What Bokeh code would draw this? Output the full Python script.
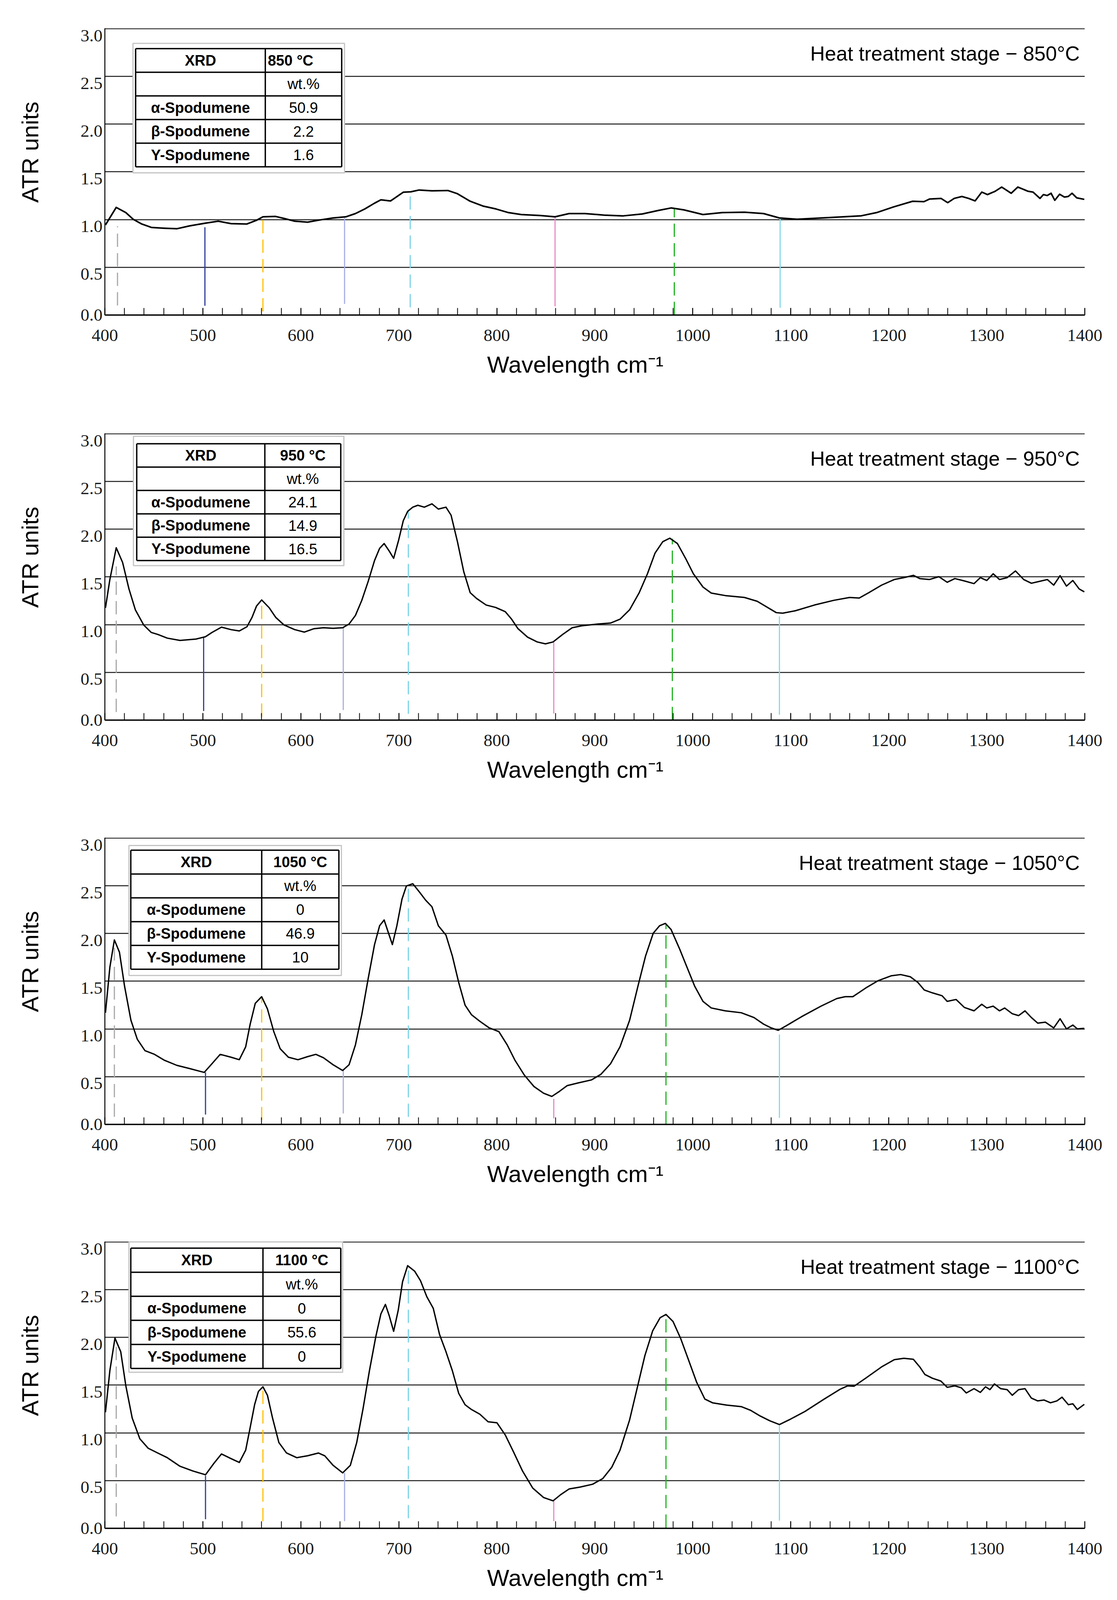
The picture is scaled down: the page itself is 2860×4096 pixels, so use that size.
import math
from bokeh.plotting import figure
from bokeh.models import Range1d, FixedTicker, SingleIntervalTicker, Label, ColumnDataSource
from bokeh.layouts import column
from bokeh.embed import file_html
from bokeh.resources import INLINE
from bokeh.core.properties import value

# ---------------------------------------------------------------- data
temps = ["850", "950", "1050", "1100"]

wn_850 = [400.6, 411.6, 421.4, 429.0, 437.6, 447.4, 460.4, 473.4, 486.5, 502.7,
          515.7, 528.8, 545.0, 554.8, 561.3, 574.3, 584.1, 593.8, 606.9, 619.9,
          632.9, 645.9, 655.7, 665.4, 675.2, 681.7, 691.5, 698.0, 704.5, 712.3,
          720.7, 733.8, 750.0, 759.8, 772.8, 785.8, 798.9, 811.9, 824.9, 844.4,
          859.4, 873.7, 890.0, 909.5, 929.0, 948.5, 964.8, 977.8, 990.8, 1010.3,
          1029.9, 1052.7, 1072.2, 1088.4, 1106.3, 1137.0, 1172.0, 1187.5, 1205.0, 1224.3,
          1235.9, 1241.7, 1253.3, 1260.1, 1266.8, 1274.6, 1281.4, 1288.1, 1294.9, 1300.7,
          1308.4, 1315.2, 1324.9, 1331.7, 1342.3, 1347.2, 1354.3, 1357.8, 1361.7, 1365.6,
          1369.4, 1374.3, 1379.2, 1383.1, 1387.0, 1391.8, 1399.5]
atr_850 = [0.944, 1.128, 1.073, 1.003, 0.954, 0.918, 0.910, 0.904, 0.934, 0.963,
           0.983, 0.958, 0.954, 0.993, 1.029, 1.033, 1.009, 0.983, 0.973, 0.997,
           1.017, 1.029, 1.063, 1.112, 1.172, 1.207, 1.195, 1.241, 1.287, 1.291,
           1.310, 1.301, 1.305, 1.271, 1.192, 1.142, 1.112, 1.073, 1.053, 1.043,
           1.029, 1.063, 1.063, 1.047, 1.039, 1.059, 1.096, 1.122, 1.102, 1.053,
           1.073, 1.077, 1.063, 1.017, 1.004, 1.020, 1.040, 1.073, 1.133, 1.192,
           1.188, 1.216, 1.222, 1.177, 1.222, 1.242, 1.222, 1.196, 1.288, 1.262,
           1.296, 1.341, 1.276, 1.341, 1.296, 1.288, 1.222, 1.262, 1.252, 1.276,
           1.202, 1.266, 1.236, 1.242, 1.276, 1.228, 1.212]

wn_950 = [400.6, 405.1, 411.6, 418.1, 424.6, 431.1, 439.6, 447.4, 454.0, 463.7,
          476.7, 493.0, 502.7, 509.2, 519.0, 528.8, 537.2, 545.0, 550.2, 554.8,
          560.0, 567.8, 574.3, 582.8, 593.8, 603.6, 613.4, 623.1, 632.9, 642.7,
          649.2, 655.7, 662.2, 668.7, 675.2, 680.4, 685.0, 690.2, 694.7, 699.9,
          704.5, 709.0, 714.2, 719.4, 726.0, 733.8, 740.3, 748.1, 753.3, 759.8,
          766.3, 772.8, 779.3, 789.1, 798.9, 808.6, 815.1, 821.6, 831.4, 841.2,
          849.6, 857.4, 867.2, 876.9, 886.7, 903.0, 916.0, 925.7, 935.5, 945.3,
          953.7, 961.5, 969.4, 976.5, 984.3, 992.8, 1000.6, 1010.4, 1018.8, 1033.1,
          1052.7, 1065.7, 1075.4, 1085.2, 1091.7, 1104.7, 1124.2, 1143.8, 1160.0, 1169.8,
          1179.6, 1192.6, 1205.6, 1215.4, 1225.1, 1231.6, 1241.4, 1251.1, 1259.6, 1267.4,
          1277.2, 1287.0, 1293.4, 1300.0, 1306.5, 1313.0, 1320.8, 1329.3, 1337.7, 1345.5,
          1353.4, 1361.8, 1368.3, 1374.8, 1381.3, 1387.8, 1394.3, 1399.5]
atr_950 = [1.176, 1.473, 1.806, 1.652, 1.374, 1.156, 0.997, 0.918, 0.898, 0.859,
           0.835, 0.849, 0.874, 0.918, 0.974, 0.948, 0.934, 0.978, 1.077, 1.196,
           1.259, 1.176, 1.077, 0.997, 0.948, 0.922, 0.958, 0.968, 0.962, 0.968,
           1.007, 1.097, 1.255, 1.453, 1.672, 1.800, 1.850, 1.771, 1.695, 1.890,
           2.088, 2.187, 2.231, 2.251, 2.231, 2.266, 2.211, 2.231, 2.147, 1.870,
           1.553, 1.335, 1.275, 1.206, 1.180, 1.136, 1.057, 0.958, 0.869, 0.819,
           0.799, 0.819, 0.898, 0.968, 0.988, 1.007, 1.017, 1.057, 1.156, 1.335,
           1.533, 1.751, 1.870, 1.906, 1.850, 1.691, 1.533, 1.394, 1.331, 1.305,
           1.285, 1.245, 1.186, 1.126, 1.120, 1.146, 1.206, 1.255, 1.285, 1.279,
           1.335, 1.414, 1.473, 1.493, 1.517, 1.483, 1.473, 1.503, 1.444, 1.483,
           1.458, 1.430, 1.493, 1.463, 1.533, 1.473, 1.493, 1.563, 1.473, 1.434,
           1.453, 1.473, 1.414, 1.513, 1.404, 1.463, 1.374, 1.344]

wn_1050 = [400.6, 405.1, 409.7, 414.9, 420.1, 426.6, 433.1, 440.9, 450.7, 460.4,
           473.4, 486.5, 501.4, 509.2, 517.7, 528.8, 537.2, 543.7, 548.3, 553.5,
           560.0, 565.9, 572.4, 578.9, 587.3, 597.1, 606.9, 615.3, 623.1, 632.9,
           642.7, 649.2, 655.7, 662.2, 668.7, 675.2, 680.4, 685.0, 689.5, 693.4,
           698.0, 703.2, 707.7, 714.2, 720.7, 727.3, 733.8, 740.3, 748.1, 754.6,
           761.1, 767.6, 774.1, 782.6, 792.3, 802.1, 810.6, 818.4, 828.1, 837.9,
           847.7, 856.1, 864.0, 871.7, 883.5, 896.5, 906.2, 916.0, 925.7, 935.5,
           944.0, 951.8, 959.6, 966.1, 972.0, 977.8, 986.3, 994.1, 1001.9, 1010.4,
           1018.8, 1033.1, 1049.4, 1062.4, 1072.2, 1080.0, 1087.2, 1095.0, 1111.2, 1130.8,
           1147.0, 1155.5, 1163.3, 1176.3, 1189.3, 1202.4, 1212.1, 1221.9, 1229.7, 1236.2,
           1244.6, 1254.4, 1259.6, 1268.7, 1277.2, 1287.0, 1294.8, 1300.0, 1306.5, 1313.0,
           1318.2, 1326.0, 1332.5, 1339.0, 1345.5, 1352.0, 1359.8, 1368.3, 1374.8, 1381.3,
           1387.8, 1392.4, 1399.5]
atr_1050 = [1.170, 1.646, 1.933, 1.804, 1.448, 1.091, 0.892, 0.773, 0.734, 0.674,
            0.619, 0.585, 0.545, 0.635, 0.734, 0.704, 0.678, 0.813, 1.051, 1.269,
            1.338, 1.210, 0.972, 0.793, 0.704, 0.678, 0.710, 0.734, 0.698, 0.625,
            0.565, 0.625, 0.833, 1.150, 1.527, 1.884, 2.082, 2.142, 2.003, 1.884,
            2.082, 2.360, 2.498, 2.522, 2.439, 2.350, 2.280, 2.082, 1.983, 1.765,
            1.487, 1.249, 1.150, 1.081, 1.011, 0.972, 0.833, 0.674, 0.516, 0.397,
            0.327, 0.293, 0.347, 0.406, 0.436, 0.466, 0.525, 0.635, 0.813, 1.091,
            1.448, 1.765, 2.003, 2.082, 2.106, 2.042, 1.844, 1.646, 1.448, 1.289,
            1.220, 1.190, 1.170, 1.120, 1.051, 1.011, 0.986, 1.031, 1.130, 1.239,
            1.319, 1.338, 1.338, 1.428, 1.507, 1.557, 1.570, 1.547, 1.487, 1.408,
            1.378, 1.348, 1.289, 1.309, 1.225, 1.190, 1.259, 1.220, 1.239, 1.190,
            1.220, 1.160, 1.140, 1.190, 1.120, 1.061, 1.071, 1.011, 1.107, 1.001,
            1.041, 1.001, 1.007]

wn_1100 = [400.6, 405.1, 410.3, 416.2, 421.4, 427.9, 435.7, 444.2, 454.0, 463.7,
           476.7, 489.7, 502.7, 511.2, 519.0, 528.8, 537.2, 543.7, 548.3, 552.8,
           556.7, 561.3, 565.9, 571.1, 577.6, 585.4, 595.8, 606.9, 617.9, 624.4,
           632.9, 642.7, 650.5, 657.0, 663.5, 670.0, 676.5, 681.7, 686.3, 690.2,
           694.7, 699.4, 703.8, 709.0, 716.2, 722.1, 728.6, 735.1, 741.6, 748.1,
           754.6, 761.1, 767.6, 774.1, 782.6, 791.1, 800.1, 808.6, 817.1, 826.2,
           836.6, 847.7, 857.4, 865.2, 873.7, 884.8, 897.8, 908.2, 917.3, 925.7,
           935.5, 943.3, 951.1, 959.0, 966.7, 972.6, 979.8, 987.6, 995.4, 1003.8,
           1012.3, 1020.1, 1034.4, 1049.4, 1059.2, 1068.9, 1078.7, 1088.4, 1098.2, 1114.5,
           1134.0, 1150.3, 1158.1, 1164.6, 1176.3, 1192.6, 1205.6, 1215.4, 1225.1, 1231.6,
           1236.8, 1244.6, 1253.1, 1259.6, 1267.4, 1273.9, 1279.1, 1287.0, 1293.4, 1298.7,
           1303.2, 1307.8, 1314.3, 1320.8, 1326.0, 1332.5, 1339.0, 1345.5, 1352.0, 1358.5,
           1365.0, 1371.5, 1376.8, 1383.3, 1387.8, 1392.4, 1399.5]
atr_1100 = [1.216, 1.652, 1.993, 1.850, 1.493, 1.156, 0.938, 0.839, 0.789, 0.740,
            0.650, 0.601, 0.561, 0.680, 0.779, 0.730, 0.690, 0.819, 1.057, 1.295,
            1.434, 1.483, 1.394, 1.156, 0.898, 0.789, 0.740, 0.760, 0.789, 0.760,
            0.660, 0.581, 0.660, 0.898, 1.255, 1.652, 2.009, 2.247, 2.346, 2.227,
            2.064, 2.286, 2.584, 2.752, 2.693, 2.594, 2.425, 2.306, 2.029, 1.850,
            1.652, 1.414, 1.295, 1.245, 1.196, 1.116, 1.106, 0.978, 0.799, 0.601,
            0.422, 0.323, 0.288, 0.353, 0.412, 0.432, 0.462, 0.522, 0.640, 0.819,
            1.136, 1.473, 1.810, 2.068, 2.207, 2.241, 2.167, 1.989, 1.771, 1.533,
            1.354, 1.315, 1.291, 1.275, 1.235, 1.176, 1.126, 1.087, 1.136, 1.225,
            1.354, 1.457, 1.493, 1.489, 1.572, 1.691, 1.767, 1.781, 1.771, 1.691,
            1.612, 1.572, 1.543, 1.477, 1.493, 1.473, 1.418, 1.463, 1.424, 1.483,
            1.453, 1.513, 1.463, 1.453, 1.394, 1.453, 1.463, 1.364, 1.335, 1.344,
            1.315, 1.335, 1.374, 1.295, 1.305, 1.245, 1.299]

# XRD table contents
phases = ["α-Spodumene", "β-Spodumene", "Y-Spodumene"]
wt_850 = ["50.9", "2.2", "1.6"]
wt_950 = ["24.1", "14.9", "16.5"]
wt_1050 = ["0", "46.9", "10"]
wt_1100 = ["0", "55.6", "0"]

# reference band markers (wavenumber, top, bottom per panel)
mk_x_850 = [412.9, 502.1, 561.3, 644.6, 711.6, 859.4, 981.1, 1089.1]
mk_top_850 = [0.93, 0.92, 1.01, 1.02, 1.29, 1.03, 1.12, 1.01]
mk_bot_850 = [0.10, 0.097, 0.038, 0.117, 0.081, 0.091, 0.0, 0.077]
mk_x_950 = [411.6, 500.8, 560.0, 643.3, 709.7, 858.1, 979.1, 1088.4]
mk_top_950 = [1.61, 0.87, 1.255, 0.978, 2.187, 0.815, 1.90, 1.087]
mk_bot_950 = [0.085, 0.095, 0.036, 0.105, 0.065, 0.069, 0.0, 0.056]
mk_x_1050 = [409.7, 502.7, 560.0, 643.3, 709.7, 858.1, 972.6, 1088.4]
mk_top_1050 = [1.85, 0.545, 1.33, 0.565, 2.508, 0.268, 2.10, 0.942]
mk_bot_1050 = [0.08, 0.103, 0.044, 0.115, 0.079, 0.063, 0.0, 0.069]
mk_x_1100 = [411.6, 502.7, 561.3, 644.6, 709.7, 858.1, 972.6, 1088.4]
mk_top_1100 = [1.97, 0.551, 1.473, 0.581, 2.742, 0.288, 2.237, 1.077]
mk_bot_1100 = [0.125, 0.095, 0.075, 0.075, 0.105, 0.075, 0.006, 0.081]

y_tick_values = [0.0, 0.5, 1.0, 1.5, 2.0, 2.5, 3.0]
y_tick_labels = ["0.0", "0.5", "1.0", "1.5", "2.0", "2.5", "3.0"]

# ---------------------------------------------------------------- styles / layout
mk_colors = ["#a8a8a8", "#2f3f9c", "#ffc000", "#a9aee6", "#7cd3e7", "#e48cc4", "#1fb31f", "#88d8e8"]
mk_dashed = [True, False, True, False, True, False, True, False]

SANS = "Liberation Sans"
SERIF = "Liberation Serif"
FW, FH = 2509, 734          # frame size in px
FIG_W = 2860
B_LEFT, B_TOP = 268, 72
B_RIGHT = FIG_W - B_LEFT - FW
YMAX = 3.004
NBSP = "\u00a0"
LABEL_SHIFT = 0.0723        # y tick labels sit just below their grid line

# table geometry (reference px, relative to frame top-left)
geos = [
    dict(box=(90, 767, 48, 462.5), grid=(98.5, 758, 65, 443), split=513.5, hdr_left=True),
    dict(box=(91.5, 765, 9, 423), grid=(102, 755, 33, 407), split=512, hdr_left=False),
    dict(box=(77, 757, 25, 441), grid=(83, 749, 40, 421), split=502, hdr_left=False),
    dict(box=(77, 761, 1, 418), grid=(83, 755, 21, 406), split=506, hdr_left=False),
]


def px2x(px):
    return 400 + px * 0.8 / FW * 1000


def px2y(py):
    return YMAX - py * 0.8 / FH * YMAX


def make_panel(idx, wn, atr, temp, wts, mkx, mktop, mkbot, height, curve_w):
    bottom = height - B_TOP - FH
    p = figure(width=FIG_W, height=height, x_range=Range1d(400, 1400), y_range=Range1d(0, YMAX),
               output_backend="svg", toolbar_location=None,
               min_border_left=B_LEFT, min_border_right=B_RIGHT,
               min_border_top=B_TOP, min_border_bottom=bottom)
    p.outline_line_color = None
    p.background_fill_color = "white"
    p.border_fill_color = "white"

    p.xgrid.visible = False
    p.ygrid.ticker = FixedTicker(ticks=[0.5, 1.0, 1.5, 2.0, 2.5, 3.0])
    p.ygrid.grid_line_color = "#1a1a1a"
    p.ygrid.grid_line_width = 2.5

    # left axis: labels placed just below each grid line
    ypos = [0.0] + [round(v - LABEL_SHIFT, 4) for v in y_tick_values[1:]]
    yax = p.yaxis[0]
    yax.ticker = FixedTicker(ticks=ypos)
    yax.major_label_overrides = {ypos[k]: y_tick_labels[k] for k in range(len(ypos))}
    yax.axis_line_color = "black"
    yax.axis_line_width = 2.5
    yax.major_tick_line_color = None
    yax.minor_tick_line_color = None
    yax.major_tick_out = 0
    yax.major_tick_in = 0
    yax.major_label_standoff = 6
    yax.major_label_text_font = SERIF
    yax.major_label_text_font_size = "45px"
    yax.major_label_text_color = "#1a1a1a"
    yax.axis_label = NBSP * 6 + "ATR units"
    yax.axis_label_text_font = SANS
    yax.axis_label_text_font_size = "60px"
    yax.axis_label_text_font_style = "normal"
    yax.axis_label_text_color = "black"
    yax.axis_label_standoff = 92

    xax = p.xaxis[0]
    xax.ticker = SingleIntervalTicker(interval=100, num_minor_ticks=5)
    xax.axis_line_color = "black"
    xax.axis_line_width = 3.5
    xax.major_tick_in = 18
    xax.major_tick_out = 0
    xax.minor_tick_in = 18
    xax.minor_tick_out = 0
    xax.major_tick_line_width = 2
    xax.minor_tick_line_width = 2
    xax.major_tick_line_color = "black"
    xax.minor_tick_line_color = "black"
    xax.major_label_text_font = SERIF
    xax.major_label_text_font_size = "45px"
    xax.major_label_text_color = "#1a1a1a"
    xax.major_label_standoff = 37
    xax.axis_label = "Wavelength cm⁻¹" + NBSP * 6
    xax.axis_label_text_font = SANS
    xax.axis_label_text_font_size = "60px"
    xax.axis_label_text_font_style = "normal"
    xax.axis_label_text_color = "black"
    xax.axis_label_standoff = 24

    # marker lines
    n = len(mkx)
    solid = ColumnDataSource(dict(
        x=[mkx[k] for k in range(n) if not mk_dashed[k]],
        y0=[mkbot[k] for k in range(n) if not mk_dashed[k]],
        y1=[mktop[k] for k in range(n) if not mk_dashed[k]],
        c=[mk_colors[k] for k in range(n) if not mk_dashed[k]]))
    dashed = ColumnDataSource(dict(
        x=[mkx[k] for k in range(n) if mk_dashed[k]],
        y0=[mkbot[k] for k in range(n) if mk_dashed[k]],
        y1=[mktop[k] for k in range(n) if mk_dashed[k]],
        c=[mk_colors[k] for k in range(n) if mk_dashed[k]]))
    p.segment(x0="x", y0="y0", x1="x", y1="y1", line_color="c", line_width=3, source=solid)
    p.segment(x0="x", y0="y0", x1="x", y1="y1", line_color="c", line_width=3,
              line_dash="34 16", source=dashed)

    # spectrum
    m = min(len(wn), len(atr))
    p.line(wn[:m], atr[:m], line_color="black", line_width=curve_w, line_join="round")

    # title
    p.add_layout(Label(x=1400, y=px2y(64.4 / 0.8), x_offset=-13,
                       text="Heat treatment stage − %s°C" % temp,
                       text_align="right", text_baseline="middle",
                       text_font=SANS, text_font_size="52px", text_color="black"))

    # XRD table
    g = geos[idx]
    bx0, bx1, by0, by1 = g["box"]
    p.quad(left=[px2x(bx0)], right=[px2x(bx1)], top=[px2y(by0)], bottom=[px2y(by1)],
           fill_color="white", line_color="#c4c4c4", line_width=3)
    gx0, gx1, gy0, gy1 = g["grid"]
    sp = g["split"]
    rh = (gy1 - gy0) / 5.0
    xs, ys = [], []
    for r in range(6):
        yy = px2y(gy0 + r * rh)
        xs.append([px2x(gx0), px2x(gx1)])
        ys.append([yy, yy])
    for xx in (gx0, sp, gx1):
        xs.append([px2x(xx), px2x(xx)])
        ys.append([px2y(gy0), px2y(gy1)])
    p.multi_line(xs, ys, line_color="black", line_width=3.5)

    c1 = px2x((gx0 + sp) / 2)
    c2 = px2x((sp + gx1) / 2)
    rc = [px2y(gy0 + (r + 0.5) * rh) for r in range(5)]
    bold_src = ColumnDataSource(dict(x=[c1] * 4, y=[rc[0], rc[2], rc[3], rc[4]],
                                     t=["XRD"] + phases))
    p.text(x="x", y="y", text="t", source=bold_src, text_font=value(SANS),
           text_font_size="38px", text_font_style="bold", text_align="center",
           text_baseline="middle", text_color="black")
    hdr = "%s °C" % temp
    if g["hdr_left"]:
        p.text(x=[px2x(sp + 8)], y=[rc[0]], text=[hdr], text_font=value(SANS),
               text_font_size="38px", text_font_style="bold", text_align="left",
               text_baseline="middle", text_color="black")
    else:
        p.text(x=[c2], y=[rc[0]], text=[hdr], text_font=value(SANS),
               text_font_size="38px", text_font_style="bold", text_align="center",
               text_baseline="middle", text_color="black")
    norm_src = ColumnDataSource(dict(x=[c2] * 4, y=[rc[1], rc[2], rc[3], rc[4]],
                                     t=["wt.%"] + list(wts)))
    p.text(x="x", y="y", text="t", source=norm_src, text_font=value(SANS),
           text_font_size="38px", text_align="center",
           text_baseline="middle", text_color="black")
    return p


panels = [
    make_panel(0, wn_850, atr_850, temps[0], wt_850, mk_x_850, mk_top_850, mk_bot_850, 1037, 4.0),
    make_panel(1, wn_950, atr_950, temps[1], wt_950, mk_x_950, mk_top_950, mk_bot_950, 1035, 3.5),
    make_panel(2, wn_1050, atr_1050, temps[2], wt_1050, mk_x_1050, mk_top_1050, mk_bot_1050, 1034, 3.5),
    make_panel(3, wn_1100, atr_1100, temps[3], wt_1100, mk_x_1100, mk_top_1100, mk_bot_1100, 990, 3.5),
]

layout = column(*panels, spacing=0)
open("out.html", "w").write(file_html(layout, INLINE))
